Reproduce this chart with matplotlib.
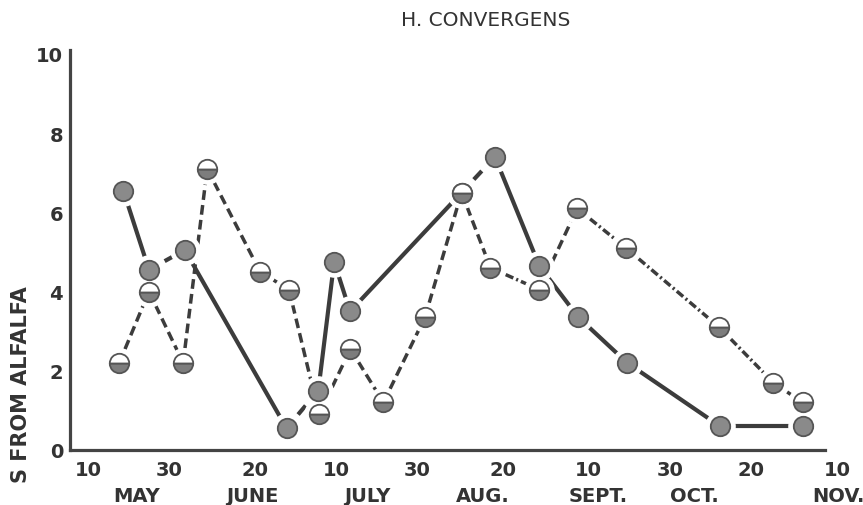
import numpy as np
import matplotlib
matplotlib.use("Agg")
import matplotlib.pyplot as plt
from matplotlib.transforms import blended_transform_factory

# ---- data: x = day of year (May 10 = 130), y = count ----
solid_days = [138.7, 145.0, 153.8, 178.8, 186.6, 190.5, 194.4, 221.8, 230.0, 240.9, 250.5, 262.5, 285.3, 305.8]
solid_vals = [6.55, 4.55, 5.05, 0.55, 1.5, 4.75, 3.5, 6.5, 7.4, 4.65, 3.35, 2.2, 0.6, 0.6]

half_days = [137.7, 145.0, 153.4, 159.3, 172.3, 179.4, 186.8, 194.5, 202.6, 212.8, 221.8,
             228.9, 240.9, 250.2, 262.2, 285.1, 298.4, 305.6]
half_vals = [2.2, 4.0, 2.2, 7.1, 4.5, 4.05, 0.9, 2.55, 1.2, 3.35, 6.5,
             4.6, 4.05, 6.1, 5.1, 3.1, 1.7, 1.2]

tick_days = [130, 150, 171, 191, 211, 232, 253, 273, 293, 314]
tick_labels = ["10", "30", "20", "10", "30", "20", "10", "30", "20", "10"]
month_names = ["MAY", "JUNE", "JULY", "AUG.", "SEPT.", "OCT.", "NOV."]
month_days = [142.0, 170.5, 198.6, 227.1, 255.3, 279.1, 314.3]

# ---- styles ----
DASH = (0, (2.8, 1.5))
DASHDOT = (0, (2.4, 0.9, 0.6, 0.9))
solid_seg_styles = ["-", DASH, "-", DASH, "-", "-", "-", DASH, "-", "-", "-", "-", "-"]
half_seg_styles = [DASH] * 11 + [DASHDOT, DASH] + [DASHDOT] * 4

LINE_C = "#3c3c3c"
FILL_C = "#8a8a8a"
EDGE_C = "#555555"
TEXT_C = "#333333"

fig = plt.figure(figsize=(8.63, 5.06), dpi=100)
ax = fig.add_axes([70 / 863, 1 - 451 / 506, (845 - 70) / 863, 400 / 506])

xmin, xmax = 125.6, 316.0
ax.set_xlim(xmin, xmax)
ax.set_ylim(0, 10.1)


def draw_segments(days, vals, styles, lw):
    for i, ls in enumerate(styles):
        ax.plot(days[i:i + 2], vals[i:i + 2], color=LINE_C, lw=lw, ls=ls,
                solid_capstyle="butt", dash_capstyle="butt", zorder=1)


draw_segments(solid_days, solid_vals, solid_seg_styles, 3.0)
draw_segments(half_days, half_vals, half_seg_styles, 2.5)

# white halo so lines stop short of the markers
for d, v in ((solid_days, solid_vals), (half_days, half_vals)):
    ax.plot(d, v, ls="none", marker="o", ms=21, mfc="white", mec="white", zorder=2)

ax.plot(solid_days, solid_vals, ls="none", marker="o", ms=14,
        mfc=FILL_C, mec=EDGE_C, mew=1.3, zorder=3)
ax.plot(half_days, half_vals, ls="none", marker="o", ms=14, fillstyle="bottom",
        mfc="#7d7d7d", mfcalt="white", mec=EDGE_C, mew=1.3, zorder=4)

# axes styling
for side in ("top", "right"):
    ax.spines[side].set_visible(False)
for side in ("left", "bottom"):
    ax.spines[side].set_linewidth(2.3)
    ax.spines[side].set_color("#444444")
ax.spines["bottom"].set_bounds(xmin, 311.1)

ax.set_yticks([0, 2, 4, 6, 8, 10])
ax.set_yticklabels(["0", "2", "4", "6", "8", "10"])
ax.set_xticks(tick_days)
ax.set_xticklabels(tick_labels)
ax.tick_params(axis="both", length=0, labelsize=14, labelcolor=TEXT_C)
ax.tick_params(axis="x", pad=7)
ax.tick_params(axis="y", pad=5)
for lab in ax.get_xticklabels() + ax.get_yticklabels():
    lab.set_fontweight("bold")

trans = blended_transform_factory(ax.transData, fig.transFigure)
for name, d in zip(month_names, month_days):
    ax.text(d, 1 - 497 / 506, name, transform=trans, ha="center", va="center",
            fontsize=14, fontweight="bold", color=TEXT_C, clip_on=False)

fig.text(486 / 863, 1 - 21 / 506, "H. CONVERGENS", ha="center", va="center",
         fontsize=14.5, color=TEXT_C)
fig.text(21 / 863, 1 - 385 / 506, "S FROM ALFALFA", rotation=90, ha="center",
         va="center", fontsize=15, fontweight="bold", color=TEXT_C)

fig.savefig("out.png", dpi=100, facecolor="white")
